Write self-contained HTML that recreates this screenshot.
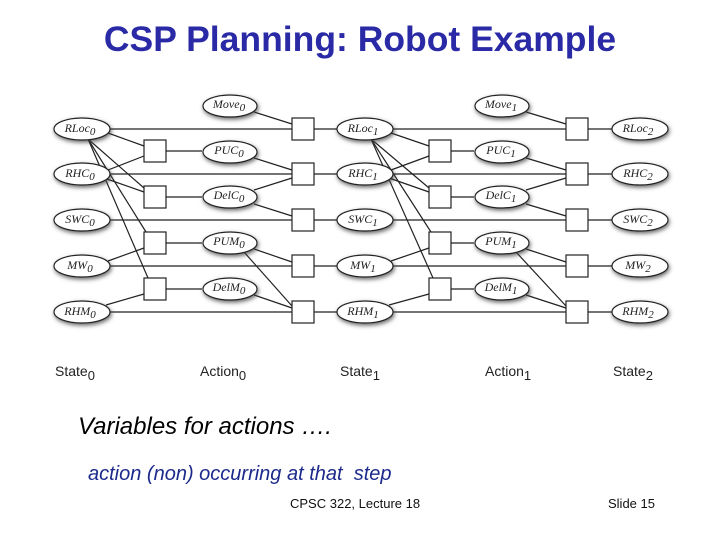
<!DOCTYPE html>
<html><head><meta charset="utf-8"><style>
html,body{margin:0;padding:0;background:#fff;}
body{width:720px;height:540px;position:relative;overflow:hidden;font-family:"Liberation Sans",Arial,sans-serif;}
.t{position:absolute;white-space:nowrap;}
</style></head><body>
<div class="t" style="left:0;width:720px;text-align:center;top:19px;font-size:35.5px;color:#2a2aa6;font-weight:bold;">CSP Planning: Robot Example</div>
<svg width="720" height="540" style="position:absolute;left:0;top:0" xmlns="http://www.w3.org/2000/svg">
<defs><filter id="sh" x="-30%" y="-50%" width="160%" height="200%"><feDropShadow dx="1" dy="2" stdDeviation="2" flood-color="#444" flood-opacity="0.8"/></filter></defs>
<g stroke="#222" stroke-width="1.2" fill="none">
<line x1="108" y1="133" x2="144" y2="146"/><line x1="108" y1="170" x2="144" y2="156"/>
<line x1="88" y1="139" x2="144" y2="188"/><line x1="88" y1="139" x2="146" y2="232"/><line x1="88" y1="139" x2="148" y2="278"/>
<line x1="104" y1="178" x2="144" y2="192"/><line x1="108" y1="261" x2="144" y2="248"/><line x1="106" y1="305" x2="144" y2="294"/>
<line x1="166" y1="151" x2="202" y2="151"/><line x1="166" y1="197" x2="202" y2="197"/><line x1="166" y1="243" x2="202" y2="243"/><line x1="166" y1="289" x2="202" y2="289"/>
<line x1="110" y1="129" x2="292" y2="129"/><line x1="110" y1="174" x2="292" y2="174"/><line x1="110" y1="220" x2="292" y2="220"/><line x1="110" y1="266" x2="292" y2="266"/><line x1="110" y1="312" x2="292" y2="312"/>
<line x1="254" y1="112" x2="292" y2="124"/><line x1="254" y1="158" x2="292" y2="170"/><line x1="254" y1="190" x2="292" y2="178"/><line x1="254" y1="204" x2="292" y2="216"/><line x1="254" y1="249" x2="292" y2="262"/><line x1="244" y1="252" x2="292" y2="306"/><line x1="254" y1="295" x2="292" y2="308"/>
<line x1="314" y1="129" x2="337" y2="129"/><line x1="314" y1="174" x2="337" y2="174"/><line x1="314" y1="220" x2="337" y2="220"/><line x1="314" y1="266" x2="337" y2="266"/><line x1="314" y1="312" x2="337" y2="312"/>
<line x1="391" y1="133" x2="429" y2="146"/><line x1="391" y1="170" x2="429" y2="156"/>
<line x1="371" y1="139" x2="429" y2="188"/><line x1="371" y1="139" x2="431" y2="232"/><line x1="371" y1="139" x2="433" y2="278"/>
<line x1="389" y1="178" x2="429" y2="192"/><line x1="391" y1="261" x2="429" y2="248"/><line x1="389" y1="305" x2="429" y2="294"/>
<line x1="451" y1="151" x2="474" y2="151"/><line x1="451" y1="197" x2="474" y2="197"/><line x1="451" y1="243" x2="474" y2="243"/><line x1="451" y1="289" x2="474" y2="289"/>
<line x1="393" y1="129" x2="566" y2="129"/><line x1="393" y1="174" x2="566" y2="174"/><line x1="393" y1="220" x2="566" y2="220"/><line x1="393" y1="266" x2="566" y2="266"/><line x1="393" y1="312" x2="566" y2="312"/>
<line x1="526" y1="112" x2="566" y2="124"/><line x1="526" y1="158" x2="566" y2="170"/><line x1="526" y1="190" x2="566" y2="178"/><line x1="526" y1="204" x2="566" y2="216"/><line x1="526" y1="249" x2="566" y2="262"/><line x1="516" y1="252" x2="566" y2="306"/><line x1="526" y1="295" x2="566" y2="308"/>
<line x1="588" y1="129" x2="612" y2="129"/><line x1="588" y1="174" x2="612" y2="174"/><line x1="588" y1="220" x2="612" y2="220"/><line x1="588" y1="266" x2="612" y2="266"/><line x1="588" y1="312" x2="612" y2="312"/>
</g>
<g fill="#fff" stroke="#222" stroke-width="1.2" filter="url(#sh)">
<ellipse cx="82" cy="129" rx="28" ry="11"/><ellipse cx="82" cy="174" rx="28" ry="11"/><ellipse cx="82" cy="220" rx="28" ry="11"/><ellipse cx="82" cy="266" rx="28" ry="11"/><ellipse cx="82" cy="312" rx="28" ry="11"/>
<ellipse cx="230" cy="106" rx="27" ry="11"/><ellipse cx="230" cy="152" rx="27" ry="11"/><ellipse cx="230" cy="197" rx="27" ry="11"/><ellipse cx="230" cy="243" rx="27" ry="11"/><ellipse cx="230" cy="289" rx="27" ry="11"/>
<ellipse cx="365" cy="129" rx="28" ry="11"/><ellipse cx="365" cy="174" rx="28" ry="11"/><ellipse cx="365" cy="220" rx="28" ry="11"/><ellipse cx="365" cy="266" rx="28" ry="11"/><ellipse cx="365" cy="312" rx="28" ry="11"/>
<ellipse cx="502" cy="106" rx="27" ry="11"/><ellipse cx="502" cy="152" rx="27" ry="11"/><ellipse cx="502" cy="197" rx="27" ry="11"/><ellipse cx="502" cy="243" rx="27" ry="11"/><ellipse cx="502" cy="289" rx="27" ry="11"/>
<ellipse cx="640" cy="129" rx="28" ry="11"/><ellipse cx="640" cy="174" rx="28" ry="11"/><ellipse cx="640" cy="220" rx="28" ry="11"/><ellipse cx="640" cy="266" rx="28" ry="11"/><ellipse cx="640" cy="312" rx="28" ry="11"/>
</g>
<g fill="#fff" stroke="#222" stroke-width="1.2">
<rect x="144" y="140" width="22" height="22"/><rect x="144" y="186" width="22" height="22"/><rect x="144" y="232" width="22" height="22"/><rect x="144" y="278" width="22" height="22"/>
<rect x="292" y="118" width="22" height="22"/><rect x="292" y="163" width="22" height="22"/><rect x="292" y="209" width="22" height="22"/><rect x="292" y="255" width="22" height="22"/><rect x="292" y="301" width="22" height="22"/>
<rect x="429" y="140" width="22" height="22"/><rect x="429" y="186" width="22" height="22"/><rect x="429" y="232" width="22" height="22"/><rect x="429" y="278" width="22" height="22"/>
<rect x="566" y="118" width="22" height="22"/><rect x="566" y="163" width="22" height="22"/><rect x="566" y="209" width="22" height="22"/><rect x="566" y="255" width="22" height="22"/><rect x="566" y="301" width="22" height="22"/>
</g>
<g font-family="Liberation Serif, serif" font-style="italic" font-size="12" fill="#222" text-anchor="middle">
<text x="80" y="132">RLoc<tspan font-size="11" dy="3">0</tspan></text>
<text x="80" y="177">RHC<tspan font-size="11" dy="3">0</tspan></text>
<text x="80" y="223">SWC<tspan font-size="11" dy="3">0</tspan></text>
<text x="80" y="269">MW<tspan font-size="11" dy="3">0</tspan></text>
<text x="80" y="315">RHM<tspan font-size="11" dy="3">0</tspan></text>
<text x="229" y="108">Move<tspan font-size="11" dy="3">0</tspan></text>
<text x="229" y="154">PUC<tspan font-size="11" dy="3">0</tspan></text>
<text x="229" y="199">DelC<tspan font-size="11" dy="3">0</tspan></text>
<text x="229" y="245">PUM<tspan font-size="11" dy="3">0</tspan></text>
<text x="229" y="291">DelM<tspan font-size="11" dy="3">0</tspan></text>
<text x="363" y="132">RLoc<tspan font-size="11" dy="3">1</tspan></text>
<text x="363" y="177">RHC<tspan font-size="11" dy="3">1</tspan></text>
<text x="363" y="223">SWC<tspan font-size="11" dy="3">1</tspan></text>
<text x="363" y="269">MW<tspan font-size="11" dy="3">1</tspan></text>
<text x="363" y="315">RHM<tspan font-size="11" dy="3">1</tspan></text>
<text x="501" y="108">Move<tspan font-size="11" dy="3">1</tspan></text>
<text x="501" y="154">PUC<tspan font-size="11" dy="3">1</tspan></text>
<text x="501" y="199">DelC<tspan font-size="11" dy="3">1</tspan></text>
<text x="501" y="245">PUM<tspan font-size="11" dy="3">1</tspan></text>
<text x="501" y="291">DelM<tspan font-size="11" dy="3">1</tspan></text>
<text x="638" y="132">RLoc<tspan font-size="11" dy="3">2</tspan></text>
<text x="638" y="177">RHC<tspan font-size="11" dy="3">2</tspan></text>
<text x="638" y="223">SWC<tspan font-size="11" dy="3">2</tspan></text>
<text x="638" y="269">MW<tspan font-size="11" dy="3">2</tspan></text>
<text x="638" y="315">RHM<tspan font-size="11" dy="3">2</tspan></text>
</g>
<g font-family="Liberation Sans, Arial, sans-serif" font-size="14" fill="#222">
<text x="55" y="376">State<tspan font-size="13" dy="4">0</tspan></text>
<text x="200" y="376">Action<tspan font-size="13" dy="4">0</tspan></text>
<text x="340" y="376">State<tspan font-size="13" dy="4">1</tspan></text>
<text x="485" y="376">Action<tspan font-size="13" dy="4">1</tspan></text>
<text x="613" y="376">State<tspan font-size="13" dy="4">2</tspan></text>
</g>
</svg>
<div class="t" style="left:78px;top:413px;font-size:24px;font-style:italic;color:#000;">Variables for actions ….</div>
<div class="t" style="left:88px;top:463px;font-size:20px;font-style:italic;color:#1c2a8c;">action (non) occurring at that &nbsp;step</div>
<div class="t" style="left:290px;top:496px;font-size:13px;color:#111;">CPSC 322, Lecture 18</div>
<div class="t" style="left:608px;top:496px;font-size:13px;color:#111;">Slide 15</div>
</body></html>
